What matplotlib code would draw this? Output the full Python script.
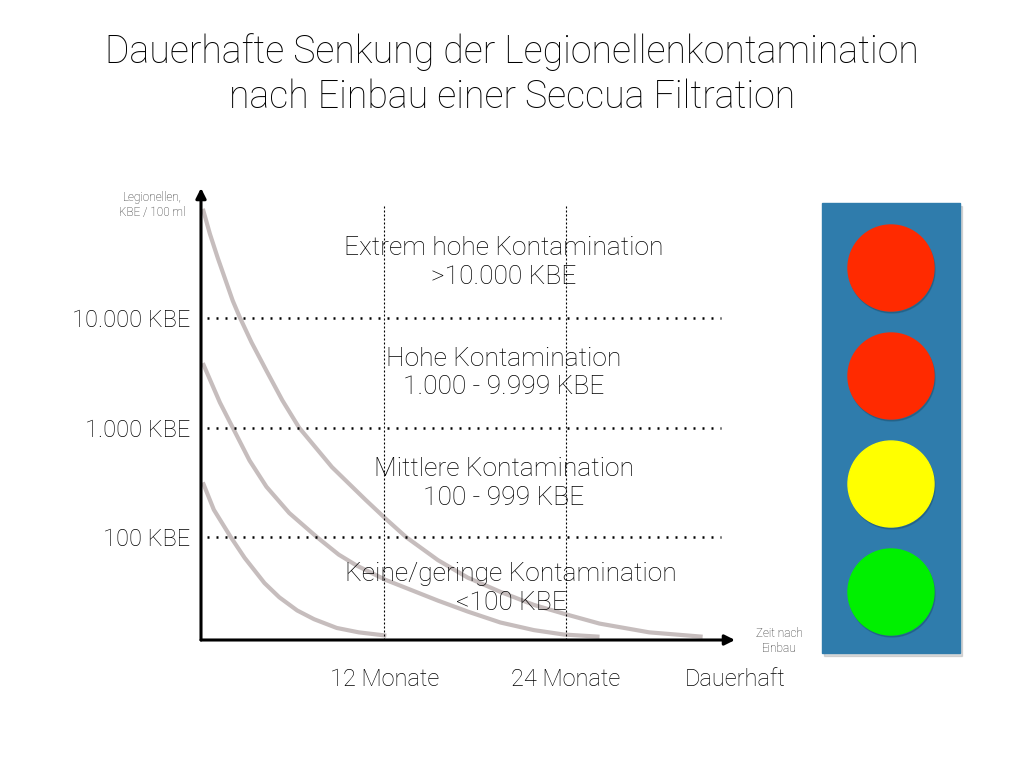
import matplotlib.pyplot as plt
from matplotlib.patches import Rectangle, Circle

plt.rcParams['font.family'] = ['Roboto', 'DejaVu Sans']

# contamination levels (log10 KBE / 100 ml) and their labels
level_values = [2, 3, 4]
level_labels = ['100 KBE', '1.000 KBE', '10.000 KBE']

region_texts = ['Extrem hohe Kontamination\n>10.000 KBE',
                'Hohe Kontamination\n1.000 - 9.999 KBE',
                'Mittlere Kontamination\n100 - 999 KBE',
                'Keine/geringe Kontamination\n<100 KBE']
region_x = [19.9, 19.9, 19.9, 20.4]
region_y = [4.51, 3.50, 2.49, 1.53]

time_ticks = [12, 24, 35.2]
time_labels = ['12 Monate', '24 Monate', 'Dauerhaft']

# decay curves (months after installation, log10 KBE)
c1_t = [0.0, 0.47, 0.99, 1.98, 2.44, 3.22, 4.21, 5.26, 6.37, 8.54, 10.77,
        12.08, 13.45, 15.55, 17.52, 19.68, 21.91, 23.88, 26.24, 29.52, 33.06]
c1_y = [5.00, 4.77, 4.55, 4.16, 4.01, 3.78, 3.52, 3.25, 3.00, 2.64, 2.34,
        2.17, 2.00, 1.79, 1.63, 1.50, 1.38, 1.30, 1.21, 1.13, 1.09]
c2_t = [0.0, 1.13, 1.98, 3.09, 4.21, 5.72, 7.55, 8.99, 10.18, 12.08, 15.55,
        17.52, 19.68, 21.91, 23.88, 26.24]
c2_y = [3.59, 3.23, 3.00, 2.70, 2.46, 2.22, 2.00, 1.84, 1.74, 1.61, 1.42,
        1.32, 1.22, 1.15, 1.11, 1.09]
c3_t = [0.0, 0.73, 1.85, 2.77, 4.08, 5.06, 6.24, 7.36, 8.86, 10.31, 12.14]
c3_y = [2.50, 2.25, 2.00, 1.81, 1.58, 1.45, 1.33, 1.25, 1.17, 1.13, 1.10]

light_colors = ['#ff2a00', '#ff2a00', '#ffff00', '#00f000']

W, H = 1024, 768
fig = plt.figure(figsize=(10.24, 7.68), dpi=100)

fig.text(0.5, 1 - 52 / H, 'Dauerhafte Senkung der Legionellenkontamination',
         ha='center', va='center', fontsize=27, fontweight='light')
fig.text(0.5, 1 - 97 / H, 'nach Einbau einer Seccua Filtration',
         ha='center', va='center', fontsize=27, fontweight='light')

ax = fig.add_axes([201 / W, 1 - 640 / H, 534 / W, 452 / H])
ax.set_xlim(-0.12, 34.9)
ax.set_ylim(1.06, 5.19)
for s in ax.spines.values():
    s.set_visible(False)

curve_col = '#c6bdbd'
for t, y in [(c1_t, c1_y), (c2_t, c2_y), (c3_t, c3_y)]:
    ax.plot(t, y, color=curve_col, lw=3, solid_capstyle='butt',
            solid_joinstyle='round', clip_on=False)

ax.hlines(level_values, 0.3, 34.3, colors='black', lw=1.8,
          linestyles=[(0, (0.8, 2.8))])
ax.vlines(time_ticks[:2], 1.06, 5.03, colors='black', lw=0.8,
          linestyles=[(0, (1.8, 1.8))])

for txt, x, y in zip(region_texts, region_x, region_y):
    ax.text(x, y, txt, ha='center', va='center', fontsize=19,
            fontweight='light', linespacing=1.25)

ax.set_yticks(level_values)
ax.set_yticklabels(level_labels, fontsize=17, fontweight='light')
ax.set_xticks(time_ticks)
ax.set_xticklabels(time_labels, fontsize=17, fontweight='light')
ax.tick_params(axis='y', length=0, pad=8)
ax.tick_params(axis='x', length=0, pad=20)

# axis arrows
ax.annotate('', xy=(0, 1.0), xytext=(0, 0), xycoords='axes fraction',
            arrowprops=dict(arrowstyle='-|>,head_length=0.6,head_width=0.3',
                            color='black', lw=2.2, shrinkA=0, shrinkB=0))
ax.annotate('', xy=(1.0, 0), xytext=(0, 0), xycoords='axes fraction',
            arrowprops=dict(arrowstyle='-|>,head_length=0.6,head_width=0.3',
                            color='black', lw=2.2, shrinkA=0, shrinkB=0))

fig.text(152 / W, 1 - 205 / H, 'Legionellen,\nKBE / 100 ml', ha='center',
         va='center', fontsize=8.5, fontweight='light', color='#222222',
         linespacing=1.2)
fig.text(779 / W, 1 - 641 / H, 'Zeit nach\nEinbau', ha='center',
         va='center', fontsize=8.5, fontweight='light', color='#222222',
         linespacing=1.2)

# traffic light
tl = fig.add_axes([822 / W, 1 - 653 / H, 138 / W, 450 / H])
tl.set_xlim(0, 138)
tl.set_ylim(0, 450)
tl.axis('off')
tl.add_patch(Rectangle((2, -3), 138, 450, color='#999999', alpha=0.35,
                       clip_on=False, zorder=0))
tl.add_patch(Rectangle((0, 0), 138, 450, color='#2f7cac', clip_on=False,
                       zorder=1))
for i, c in enumerate(light_colors):
    cy = 385 - i * 108
    tl.add_patch(Circle((70, cy - 2), 43, color='#1a4a66', alpha=0.35,
                        zorder=2))
    tl.add_patch(Circle((69, cy), 43, color=c, zorder=3))

fig.savefig('out.png', dpi=100)
